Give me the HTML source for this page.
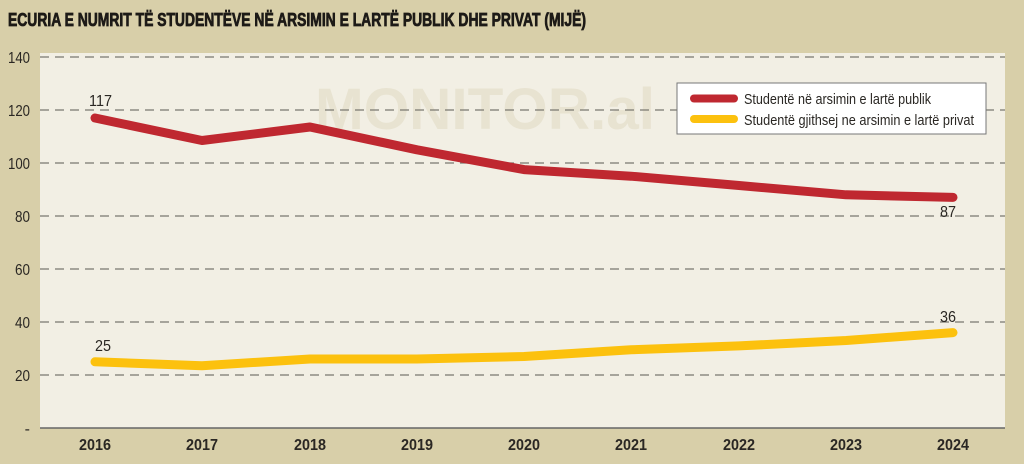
<!DOCTYPE html>
<html><head><meta charset="utf-8"><style>
body{margin:0;background:#d8cfa9;}
svg{display:block}
</style></head><body>
<svg width="1024" height="464" viewBox="0 0 1024 464" xmlns="http://www.w3.org/2000/svg" font-family="'Liberation Sans',sans-serif">
<rect width="1024" height="464" fill="#d8cfa9"/>
<text x="8" y="26" font-size="18" font-weight="bold" fill="#1d1a17" stroke="#1d1a17" stroke-width="0.8" textLength="578" lengthAdjust="spacingAndGlyphs">ECURIA E NUMRIT TË STUDENTËVE NË ARSIMIN E LARTË PUBLIK DHE PRIVAT (MIJË)</text>
<rect x="40" y="53" width="965" height="375" fill="#f2efe4"/>
<text x="315" y="129" font-size="58" font-weight="bold" fill="#e8e3d1" textLength="340" lengthAdjust="spacingAndGlyphs">MONITOR.al</text>
<g stroke="#7a776f" stroke-width="1.3" stroke-dasharray="9,6">
<line x1="40" x2="1005" y1="57" y2="57"/>
<line x1="40" x2="1005" y1="110" y2="110"/>
<line x1="40" x2="1005" y1="163" y2="163"/>
<line x1="40" x2="1005" y1="216" y2="216"/>
<line x1="40" x2="1005" y1="269" y2="269"/>
<line x1="40" x2="1005" y1="322" y2="322"/>
<line x1="40" x2="1005" y1="375" y2="375"/>
</g>
<line x1="40" x2="1005" y1="428" y2="428" stroke="#666" stroke-width="1.5"/>
<g font-size="16" fill="#2a2723" text-anchor="end">
<text x="30" y="63" textLength="22" lengthAdjust="spacingAndGlyphs">140</text><text x="30" y="116" textLength="22" lengthAdjust="spacingAndGlyphs">120</text><text x="30" y="169" textLength="22" lengthAdjust="spacingAndGlyphs">100</text>
<text x="30" y="222" textLength="15" lengthAdjust="spacingAndGlyphs">80</text><text x="30" y="275" textLength="15" lengthAdjust="spacingAndGlyphs">60</text><text x="30" y="328" textLength="15" lengthAdjust="spacingAndGlyphs">40</text>
<text x="30" y="381" textLength="15" lengthAdjust="spacingAndGlyphs">20</text><text x="30" y="434">-</text>
</g>
<g font-size="16" font-weight="bold" fill="#2a2723" text-anchor="middle">
<text x="95" y="450" textLength="32" lengthAdjust="spacingAndGlyphs">2016</text><text x="202" y="450" textLength="32" lengthAdjust="spacingAndGlyphs">2017</text><text x="310" y="450" textLength="32" lengthAdjust="spacingAndGlyphs">2018</text>
<text x="417" y="450" textLength="32" lengthAdjust="spacingAndGlyphs">2019</text><text x="524" y="450" textLength="32" lengthAdjust="spacingAndGlyphs">2020</text><text x="631" y="450" textLength="32" lengthAdjust="spacingAndGlyphs">2021</text>
<text x="739" y="450" textLength="32" lengthAdjust="spacingAndGlyphs">2022</text><text x="846" y="450" textLength="32" lengthAdjust="spacingAndGlyphs">2023</text><text x="953" y="450" textLength="32" lengthAdjust="spacingAndGlyphs">2024</text>
</g>
<polyline fill="none" stroke="#bf2830" stroke-width="9" stroke-linecap="round" stroke-linejoin="round"
 points="95,118 202,140.5 310,127 417,149.8 524,169.6 631,176.2 739,185.5 846,194.8 953,197.4"/>
<polyline fill="none" stroke="#fcc10e" stroke-width="9" stroke-linecap="round" stroke-linejoin="round"
 points="95,361.8 202,365.7 310,359 417,359 524,356.5 631,349.8 739,345.9 846,340.5 953,332.6"/>
<g font-size="16" fill="#2a2723">
<text x="89" y="106" textLength="23" lengthAdjust="spacingAndGlyphs">117</text><text x="940" y="217" textLength="16" lengthAdjust="spacingAndGlyphs">87</text>
<text x="95" y="351" textLength="16" lengthAdjust="spacingAndGlyphs">25</text><text x="940" y="322" textLength="16" lengthAdjust="spacingAndGlyphs">36</text>
</g>
<rect x="677" y="83" width="309" height="51" fill="#fff" stroke="#777" stroke-width="1"/>
<line x1="694" x2="734" y1="98.5" y2="98.5" stroke="#bf2830" stroke-width="8" stroke-linecap="round"/>
<line x1="694" x2="734" y1="119" y2="119" stroke="#fcc10e" stroke-width="8" stroke-linecap="round"/>
<g font-size="15" fill="#2a2723">
<text x="744" y="104" textLength="187" lengthAdjust="spacingAndGlyphs">Studentë në arsimin e lartë publik</text>
<text x="744" y="125" textLength="230" lengthAdjust="spacingAndGlyphs">Studentë gjithsej ne arsimin e lartë privat</text>
</g>
</svg>
</body></html>
